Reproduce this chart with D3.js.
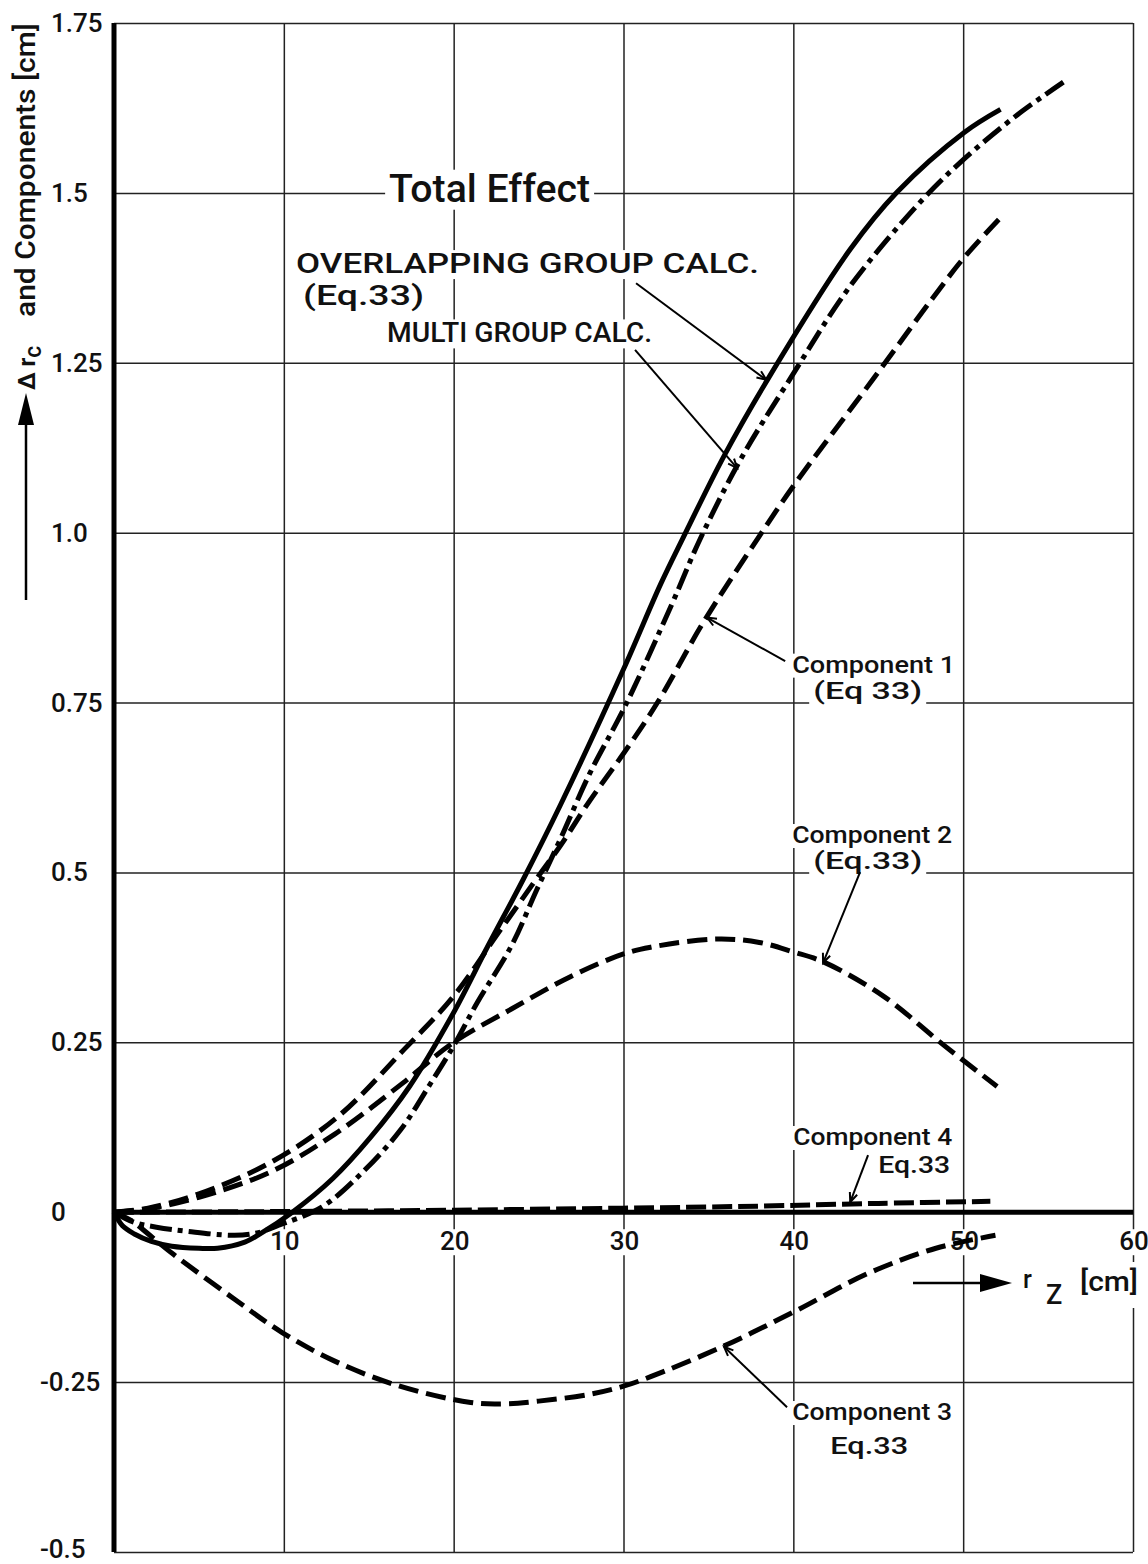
<!DOCTYPE html>
<html>
<head>
<meta charset="utf-8">
<script src="https://cdn.jsdelivr.net/npm/d3@7"></script>
<style>
  body { margin: 0; background: #fff; }
  text { font-family: Roboto, "DejaVu Sans", sans-serif; font-weight: 500; fill: #111; }
</style>
</head>
<body>
<svg id="chart" width="1148" height="1564"></svg>
<script>
// axis ranges and ticks
var xDomain = [0, 60];
var yDomain = [-0.5, 1.75];
var xTicks = [10, 20, 30, 40, 50, 60];
var xTickLabels = ["10", "20", "30", "40", "50", "60"];
var yTicks = [1.75, 1.5, 1.25, 1.0, 0.75, 0.5, 0.25, 0, -0.25, -0.5];
var yTickLabels = ["1.75", "1.5", "1.25", "1.0", "0.75", "0.5", "0.25", "0", "-0.25", "-0.5"];

// curves: [r_Z in cm, delta r_c in cm]
var overlapping = [[0,0],[0.5,-0.02],[1.2,-0.032],[2.2,-0.043],[3.4,-0.05],[5,-0.053],[6.1,-0.053],
  [7.7,-0.044],[8.6,-0.032],[10.5,0],[12.9,0.05],[15.1,0.11],[17.4,0.185],[20,0.294],[22,0.391],
  [24.1,0.49],[26.3,0.6],[30,0.799],[32.2,0.925],[33.5,0.992],[35.9,1.112],[38.5,1.226],
  [43.35,1.417],[46.1,1.501],[50.06,1.589],[52.2,1.623]];
var multiGroup = [[0,0],[1.2,-0.015],[2.5,-0.022],[4.3,-0.028],[7.1,-0.034],[8.5,-0.03],[9.6,-0.02],
  [12.2,0.007],[14.6,0.058],[16.9,0.122],[18.6,0.188],[20,0.245],[21.4,0.309],[23.4,0.392],
  [24.9,0.475],[26.3,0.55],[28,0.645],[30.1,0.745],[32.8,0.892],[34.5,0.99],[36.9,1.108],
  [39.8,1.226],[43.35,1.363],[47.6,1.49],[50.06,1.55],[53.2,1.615],[55.9,1.663]];
var comp1 = [[0,0],[2,0.006],[5,0.027],[9.2,0.073],[13.2,0.141],[17.1,0.24],[20,0.318],[22.6,0.41],
  [25,0.495],[26.3,0.54],[28,0.605],[30,0.675],[32,0.75],[34.7,0.868],[38,0.995],[40.1,1.072],
  [44.7,1.226],[48.2,1.345],[50.06,1.405],[52.1,1.461]];
var comp2 = [[0,0],[2,0.005],[5,0.022],[9.2,0.059],[13,0.115],[17,0.19],[20,0.25],[23.4,0.299],
  [26.9,0.347],[30,0.38],[31.6,0.39],[35.5,0.402],[38,0.397],[40,0.383],[41.8,0.368],[45.3,0.318],
  [48.8,0.247],[52,0.185]];
var comp3 = [[0,0],[1,-0.012],[2.4,-0.04],[3.5,-0.062],[7.1,-0.128],[9.9,-0.177],[12.9,-0.218],
  [16.7,-0.255],[21,-0.28],[23,-0.282],[25,-0.278],[28,-0.268],[30,-0.256],[31.6,-0.242],
  [35.9,-0.197],[40,-0.147],[44.4,-0.09],[48.4,-0.053],[51.9,-0.034]];
var comp4 = [[0,0],[10,0.001],[20,0.003],[30,0.006],[38,0.009],[45,0.013],[51.6,0.016]];

var svg = d3.select("#chart");
svg.append("rect").attr("width", 1148).attr("height", 1564).attr("fill", "#fff");

var x = d3.scaleLinear().domain(xDomain).range([114, 1133]);
var y = d3.scaleLinear().domain(yDomain).range([1552, 23]);

// grid lines through the axes
svg.append("g")
  .attr("transform", "translate(0," + y(yDomain[0]) + ")")
  .call(d3.axisBottom(x).tickValues(xTicks).tickSize(-(y(yDomain[0]) - y(yDomain[1]))).tickFormat(""))
  .call(function (g) { g.select(".domain").remove(); })
  .selectAll("line").attr("stroke", "#222").attr("stroke-width", 1.5);

svg.append("g")
  .attr("transform", "translate(" + x(0) + ",0)")
  .call(d3.axisLeft(y).tickValues(yTicks.filter(function (d) { return d !== 0; }))
    .tickSize(-(x(xDomain[1]) - x(0))).tickFormat(""))
  .call(function (g) { g.select(".domain").remove(); })
  .selectAll("line").attr("stroke", "#222").attr("stroke-width", 1.5);

// heavy zero line and left axis
svg.append("line")
  .attr("x1", x(0)).attr("x2", x(xDomain[1])).attr("y1", y(0)).attr("y2", y(0))
  .attr("stroke", "#000").attr("stroke-width", 5);
svg.append("line")
  .attr("x1", x(0)).attr("x2", x(0)).attr("y1", y(yDomain[1])).attr("y2", y(yDomain[0]))
  .attr("stroke", "#000").attr("stroke-width", 5);

// helper: text with a white box behind it (hides the grid like the original)
function maskedText(g, str, px, py, size, len, anchor) {
  var t = g.append("text")
    .attr("x", px).attr("y", py)
    .attr("font-size", size)
    .attr("text-anchor", anchor || "start")
    .text(str);
  if (len) t.attr("textLength", len).attr("lengthAdjust", "spacingAndGlyphs");
  var b = t.node().getBBox();
  g.insert("rect", function () { return t.node(); })
    .attr("x", b.x - 4).attr("y", b.y + 3).attr("width", b.width + 8).attr("height", b.height - 4)
    .attr("fill", "#fff");
  return t;
}

// y tick labels
var yLab = svg.append("g");
yTicks.forEach(function (d, i) {
  yLab.append("text")
    .attr("x", d < 0 ? 40 : 51).attr("y", Math.min(y(d) + 9, 1558))
    .attr("font-size", 26)
    .text(yTickLabels[i]);
});

// x tick labels
var xLab = svg.append("g");
xTicks.forEach(function (d, i) {
  maskedText(xLab, xTickLabels[i], x(d) + 1, y(0) + 38, 26, null, "middle");
});

// x axis title: arrow then r_Z [cm]
var xt = svg.append("g");
xt.append("rect").attr("x", 1015).attr("y", 1262).attr("width", 128).attr("height", 46).attr("fill", "#fff");
xt.append("line").attr("x1", 913).attr("x2", 985).attr("y1", 1283).attr("y2", 1283)
  .attr("stroke", "#000").attr("stroke-width", 2.5);
xt.append("path").attr("d", "M980,1274 L1012,1283 L980,1292 Z").attr("fill", "#000");
xt.append("text").attr("x", 1023).attr("y", 1288).attr("font-size", 25).text("r");
xt.append("text").attr("x", 1046).attr("y", 1304).attr("font-size", 27).text("Z");
xt.append("text").attr("x", 1080).attr("y", 1291).attr("font-size", 27)
  .attr("textLength", 58).attr("lengthAdjust", "spacingAndGlyphs").text("[cm]");

// y axis title, rotated
var yt = svg.append("g").attr("transform", "translate(35,0) rotate(-90)");
yt.append("line").attr("x1", -600).attr("x2", -420).attr("y1", -9).attr("y2", -9)
  .attr("stroke", "#000").attr("stroke-width", 2.5);
yt.append("path").attr("d", "M-425,-17 L-393,-9 L-425,-1 Z").attr("fill", "#000");
var dr = yt.append("text").attr("x", -390).attr("y", 0).attr("font-size", 24);
dr.append("tspan").attr("font-weight", 700).text("\u0394 r");
dr.append("tspan").attr("dy", 6).attr("font-size", 23).text("c");
yt.append("text").attr("x", -317).attr("y", 0).attr("font-size", 27)
  .attr("textLength", 294).attr("lengthAdjust", "spacingAndGlyphs")
  .text("and  Components  [cm]");

// annotation texts (anchored in data units)
var notes = [
  { t: "Total Effect", x: 16.2, y: 1.487, fs: 38, w: 201 },
  { t: "OVERLAPPING GROUP CALC.", x: 10.72, y: 1.382, fs: 28, w: 463 },
  { t: "(Eq.33)", x: 11.13, y: 1.335, fs: 28, w: 121 },
  { t: "MULTI GROUP CALC.", x: 16.08, y: 1.28, fs: 28, w: 265 },
  { t: "Component 1", x: 39.93, y: 0.794, fs: 24, w: 163 },
  { t: "(Eq 33)", x: 41.17, y: 0.755, fs: 23, w: 109 },
  { t: "Component 2", x: 39.93, y: 0.5433, fs: 24, w: 160 },
  { t: "(Eq.33)", x: 41.17, y: 0.505, fs: 23, w: 109 },
  { t: "Component 4", x: 39.99, y: 0.0989, fs: 24, w: 159 },
  { t: "Eq.33", x: 45.0, y: 0.0577, fs: 24, w: 72 },
  { t: "Component 3", x: 39.93, y: -0.3058, fs: 24, w: 160 },
  { t: "Eq.33", x: 42.17, y: -0.3558, fs: 24, w: 78 }
];
var noteG = svg.append("g");
notes.forEach(function (n) {
  maskedText(noteG, n.t, x(n.x), y(n.y), n.fs, n.w);
});

// the curves
var line = d3.line()
  .x(function (d) { return x(d[0]); })
  .y(function (d) { return y(d[1]); })
  .curve(d3.curveCatmullRom.alpha(0.5));

var series = [
  { data: comp4, dash: "20,6" },
  { data: comp3, dash: "20,8" },
  { data: comp2, dash: "20,8" },
  { data: comp1, dash: "20,8" },
  { data: multiGroup, dash: "22,6,5,6" },
  { data: overlapping, dash: null }
];
svg.append("g").selectAll("path")
  .data(series)
  .join("path")
  .attr("d", function (d) { return line(d.data); })
  .attr("fill", "none")
  .attr("stroke", "#000")
  .attr("stroke-width", 5)
  .attr("stroke-dasharray", function (d) { return d.dash; });

// leader lines with open arrow heads
var leaders = [
  { from: [30.74, 1.367], to: [38.4, 1.225] },
  { from: [30.68, 1.269], to: [36.69, 1.095] },
  { from: [39.52, 0.811], to: [34.92, 0.875] },
  { from: [43.93, 0.5006], to: [41.75, 0.367] },
  { from: [44.4, 0.084], to: [43.35, 0.015] },
  { from: [39.63, -0.287], to: [35.92, -0.198] }
];
var leadG = svg.append("g").attr("stroke", "#000").attr("fill", "none").attr("stroke-width", 2);
leaders.forEach(function (l) {
  var x1 = x(l.from[0]), y1 = y(l.from[1]), x2 = x(l.to[0]), y2 = y(l.to[1]);
  var a = Math.atan2(y1 - y2, x1 - x2), h = 10, s = 0.4;
  leadG.append("line").attr("x1", x1).attr("y1", y1).attr("x2", x2).attr("y2", y2);
  leadG.append("path").attr("d",
    "M" + (x2 + h * Math.cos(a - s)) + "," + (y2 + h * Math.sin(a - s)) +
    "L" + x2 + "," + y2 +
    "L" + (x2 + h * Math.cos(a + s)) + "," + (y2 + h * Math.sin(a + s)));
});
</script>
</body>
</html>
